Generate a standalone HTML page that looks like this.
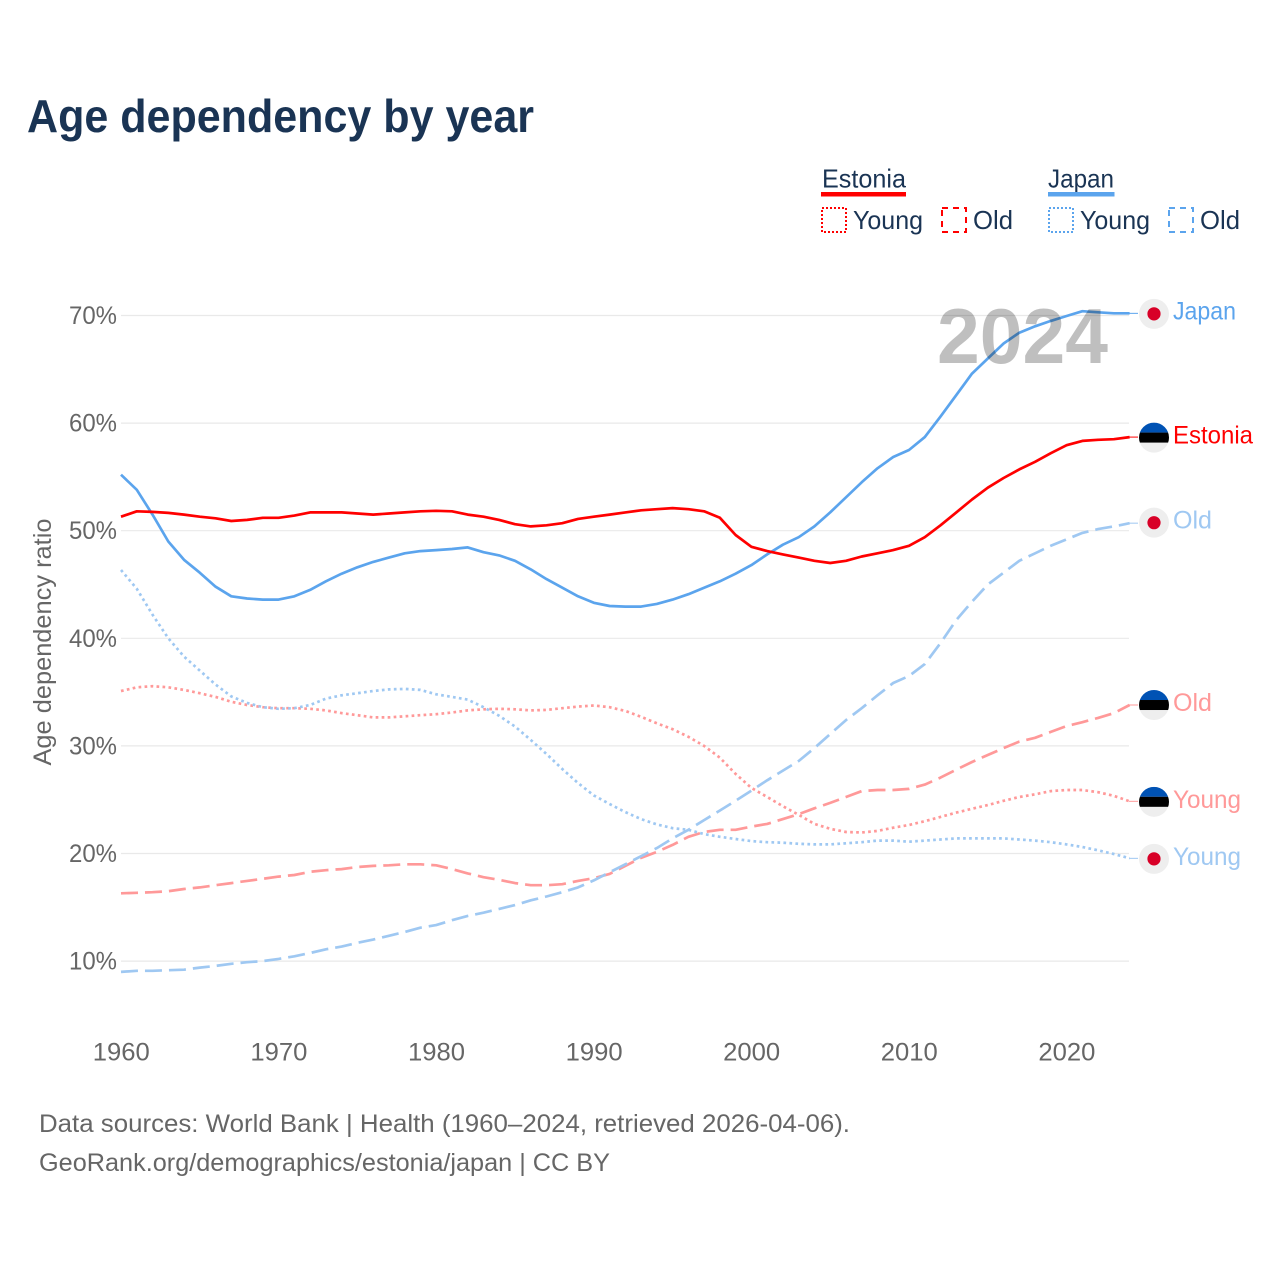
<!DOCTYPE html>
<html lang="en">
<head>
<meta charset="utf-8">
<title>Age dependency by year</title>
<style>
html,body{margin:0;padding:0;background:#fff;}
svg{display:block;}
text{font-family:"Liberation Sans",sans-serif;}
</style>
</head>
<body>
<svg id="chart" xmlns="http://www.w3.org/2000/svg" width="1280" height="1280" viewBox="0 0 1280 1280">
  <rect width="1280" height="1280" fill="#fff"/>
  <text x="27" y="132" font-size="46" font-weight="700" fill="#1a3454" textLength="507" lengthAdjust="spacingAndGlyphs">Age dependency by year</text>

  <g font-size="26" fill="#1a3454">
    <text x="822" y="187.5" textLength="84" lengthAdjust="spacingAndGlyphs">Estonia</text>
    <rect x="821" y="192" width="85" height="4.5" fill="#ff0000"/>
    <rect x="822" y="208" width="24" height="24" fill="none" stroke="#ff0000" stroke-width="2" stroke-dasharray="2 2"/>
    <text x="853" y="229" textLength="70" lengthAdjust="spacingAndGlyphs">Young</text>
    <rect x="942" y="208" width="24" height="24" fill="none" stroke="#ff0000" stroke-width="2" stroke-dasharray="6 5"/>
    <text x="973" y="229" textLength="40" lengthAdjust="spacingAndGlyphs">Old</text>
    <text x="1048" y="187.5" textLength="66" lengthAdjust="spacingAndGlyphs">Japan</text>
    <rect x="1048" y="192" width="66.5" height="4.5" fill="#5ba4ed"/>
    <rect x="1049" y="208" width="24" height="24" fill="none" stroke="#5ba4ed" stroke-width="2" stroke-dasharray="2 2"/>
    <text x="1080" y="229" textLength="70" lengthAdjust="spacingAndGlyphs">Young</text>
    <rect x="1169" y="208" width="24" height="24" fill="none" stroke="#5ba4ed" stroke-width="2" stroke-dasharray="6 5"/>
    <text x="1200" y="229" textLength="40" lengthAdjust="spacingAndGlyphs">Old</text>
  </g>

  <g id="grid"></g>
  <g id="yticks" font-size="25" fill="#666"></g>
  <g id="xticks" font-size="25" fill="#666"></g>
  <text transform="translate(51 642) rotate(-90)" text-anchor="middle" font-size="25" fill="#666" textLength="247" lengthAdjust="spacingAndGlyphs">Age dependency ratio</text>

  <g id="series"></g>

  <text x="937" y="363" font-size="78" font-weight="700" fill="#000" fill-opacity="0.25" textLength="171" lengthAdjust="spacingAndGlyphs">2024</text>

  <g id="ends"></g>

  <g font-size="25" fill="#666">
    <text x="39" y="1132" textLength="811" lengthAdjust="spacingAndGlyphs">Data sources: World Bank | Health (1960–2024, retrieved 2026-04-06).</text>
    <text x="39" y="1171" textLength="571" lengthAdjust="spacingAndGlyphs">GeoRank.org/demographics/estonia/japan | CC BY</text>
  </g>
</svg>
<script>
const startYear = 1960;
const yTickValues = [10, 20, 30, 40, 50, 60, 70];
const xTickValues = [1960, 1970, 1980, 1990, 2000, 2010, 2020];

const estoniaTotal = [51.3,51.8,51.75,51.65,51.5,51.3,51.15,50.9,51.0,51.2,51.2,51.4,51.7,51.7,51.7,51.6,51.5,51.6,51.7,51.8,51.85,51.8,51.5,51.3,51.0,50.6,50.4,50.5,50.7,51.1,51.3,51.5,51.7,51.9,52.0,52.1,52.0,51.8,51.2,49.6,48.5,48.1,47.8,47.5,47.2,47.0,47.2,47.6,47.9,48.2,48.6,49.4,50.5,51.7,52.9,54.0,54.9,55.7,56.4,57.2,57.95,58.35,58.45,58.5,58.7];
const japanTotal = [55.2,53.8,51.5,49.0,47.3,46.1,44.8,43.9,43.7,43.6,43.6,43.9,44.5,45.3,46.0,46.6,47.1,47.5,47.9,48.1,48.2,48.3,48.45,48.0,47.7,47.2,46.4,45.5,44.7,43.9,43.3,43.0,42.95,42.95,43.2,43.6,44.1,44.7,45.3,46.0,46.8,47.8,48.7,49.4,50.4,51.7,53.1,54.5,55.8,56.85,57.5,58.7,60.6,62.6,64.6,66.0,67.4,68.4,69.0,69.5,69.95,70.4,70.3,70.2,70.2];
const japanYoung = [46.35,44.6,42.2,40.0,38.3,37.0,35.7,34.6,34.0,33.6,33.45,33.5,33.8,34.4,34.7,34.9,35.1,35.25,35.3,35.2,34.8,34.55,34.3,33.6,32.8,31.8,30.55,29.25,27.85,26.55,25.4,24.6,23.85,23.2,22.7,22.35,22.2,21.8,21.55,21.35,21.15,21.05,21.0,20.9,20.85,20.85,20.95,21.05,21.2,21.2,21.1,21.2,21.3,21.4,21.4,21.4,21.4,21.3,21.2,21.05,20.85,20.6,20.3,19.95,19.55];
const japanOld = [9.0,9.1,9.1,9.15,9.2,9.4,9.55,9.75,9.9,10.0,10.2,10.45,10.75,11.1,11.35,11.7,12.0,12.35,12.7,13.1,13.35,13.8,14.2,14.5,14.85,15.2,15.65,16.0,16.4,16.85,17.5,18.25,19.0,19.75,20.5,21.4,22.2,23.1,24.0,24.9,25.85,26.8,27.7,28.6,29.8,31.1,32.4,33.5,34.7,35.85,36.5,37.6,39.55,41.7,43.4,45.0,46.1,47.2,47.9,48.6,49.2,49.8,50.15,50.4,50.7];
const estoniaYoung = [35.1,35.45,35.55,35.45,35.2,34.9,34.55,34.1,33.8,33.6,33.5,33.5,33.45,33.3,33.05,32.85,32.65,32.65,32.75,32.85,32.95,33.1,33.3,33.4,33.45,33.4,33.3,33.35,33.5,33.65,33.75,33.6,33.25,32.7,32.1,31.55,30.85,30.0,28.9,27.4,26.1,25.25,24.4,23.6,22.75,22.3,22.0,21.95,22.1,22.4,22.65,23.0,23.4,23.8,24.15,24.5,24.9,25.25,25.5,25.8,25.9,25.9,25.7,25.35,24.85];
const estoniaOld = [16.3,16.35,16.4,16.5,16.7,16.85,17.05,17.25,17.45,17.65,17.85,18.0,18.3,18.45,18.55,18.75,18.85,18.9,19.0,19.0,18.9,18.55,18.15,17.8,17.55,17.25,17.05,17.05,17.15,17.45,17.7,18.1,18.85,19.6,20.15,20.8,21.55,22.0,22.2,22.2,22.5,22.75,23.2,23.65,24.2,24.7,25.25,25.8,25.9,25.9,26.0,26.4,27.05,27.8,28.5,29.15,29.8,30.4,30.75,31.3,31.85,32.2,32.6,33.05,33.8];

const NS = 'http://www.w3.org/2000/svg';
const xScale = function (year) { return 121 + (year - 1960) * 15.76; };
const yScale = function (v) { return 315.5 + (70 - v) * 10.76; };

function make(tag, attrs, parent) {
  const el = document.createElementNS(NS, tag);
  Object.keys(attrs).forEach(function (k) { el.setAttribute(k, attrs[k]); });
  parent.appendChild(el);
  return el;
}

const grid = document.getElementById('grid');
const yticks = document.getElementById('yticks');
const xticks = document.getElementById('xticks');
const seriesGroup = document.getElementById('series');
const endsGroup = document.getElementById('ends');

yTickValues.forEach(function (v) {
  const line = make('line', {x1: 121, x2: 1129, y1: yScale(v), y2: yScale(v), stroke: '#e9e9e9', 'stroke-width': 1.2}, grid);
  
  
  const label = make('text', {x: 117, y: yScale(v) + 8.5, 'text-anchor': 'end', textLength: 48, lengthAdjust: 'spacingAndGlyphs'}, yticks);
  label.textContent = v + '%';
  
  
});

xTickValues.forEach(function (y) {
  const label = make('text', {x: xScale(y) + 0.3, y: 1060.5, 'text-anchor': 'middle', textLength: 57, lengthAdjust: 'spacingAndGlyphs'}, xticks);
  label.textContent = String(y);
  
  
});

function drawSeries(values, color, dash, name) {
  const pts = values.map(function (v, i) { return xScale(startYear + i).toFixed(1) + ',' + yScale(v).toFixed(1); });
  const path = make('polyline', {points: pts.join(' '), fill: 'none', stroke: color, 'stroke-width': 2.7, 'stroke-linejoin': 'round'}, seriesGroup);
  if (dash) path.setAttribute('stroke-dasharray', dash);
  
  
}

const dashOld = '17 7';
const dashYoung = '2.7 3.3';
drawSeries(estoniaYoung, '#ff9999', dashYoung, 'estonia-young-line');
drawSeries(estoniaOld, '#ff9999', dashOld, 'estonia-old-line');
drawSeries(japanYoung, '#9fc8f2', dashYoung, 'japan-young-line');
drawSeries(japanOld, '#9fc8f2', dashOld, 'japan-old-line');
drawSeries(japanTotal, '#5ba4ed', '', 'japan-total-line');
drawSeries(estoniaTotal, '#ff0000', '', 'estonia-total-line');

function lastOf(arr) { return arr[arr.length - 1]; }

function drawEnd(value, country, text, color, labelWidth, dyFlag, dyLabel) {
  const cy = yScale(value) + dyFlag;
  const g = make('g', {}, endsGroup);
  
  
  make('line', {x1: 1129, y1: yScale(value), x2: 1138, y2: yScale(value), stroke: color, 'stroke-width': 1}, g);
  make('circle', {cx: 1154, cy: cy, r: 15, fill: '#eeeeee'}, g);
  if (country === 'japan') {
    make('circle', {cx: 1154, cy: cy, r: 6.6, fill: '#d80027'}, g);
  } else {
    const a = cy - 15;
    const clip = make('clipPath', {id: 'c' + Math.round(cy)}, g);
    make('circle', {cx: 1154, cy: cy, r: 15}, clip);
    make('rect', {x: 1139, y: a, width: 30, height: 10, fill: '#0052b4', 'clip-path': 'url(#c' + Math.round(cy) + ')'}, g);
    make('rect', {x: 1139, y: a + 10, width: 30, height: 10, fill: '#000', 'clip-path': 'url(#c' + Math.round(cy) + ')'}, g);
  }
  const t = make('text', {x: 1173, y: yScale(value) + dyLabel, 'font-size': 25, fill: color, textLength: labelWidth, lengthAdjust: 'spacingAndGlyphs'}, g);
  t.textContent = text;
}

drawEnd(lastOf(japanTotal), 'japan', 'Japan', '#5ba4ed', 63, 0.5, 6);
drawEnd(lastOf(estoniaTotal), 'estonia', 'Estonia', '#ff0000', 80, 0.5, 6.5);
drawEnd(lastOf(japanOld), 'japan', 'Old', '#9fc8f2', 39, -0.5, 5.5);
drawEnd(lastOf(estoniaOld), 'estonia', 'Old', '#ff9999', 39, 0, 6);
drawEnd(lastOf(estoniaYoung), 'estonia', 'Young', '#ff9999', 68, 0.5, 6.5);
drawEnd(lastOf(japanYoung), 'japan', 'Young', '#9fc8f2', 68, 0.5, 6.5);
</script>
</body>
</html>
